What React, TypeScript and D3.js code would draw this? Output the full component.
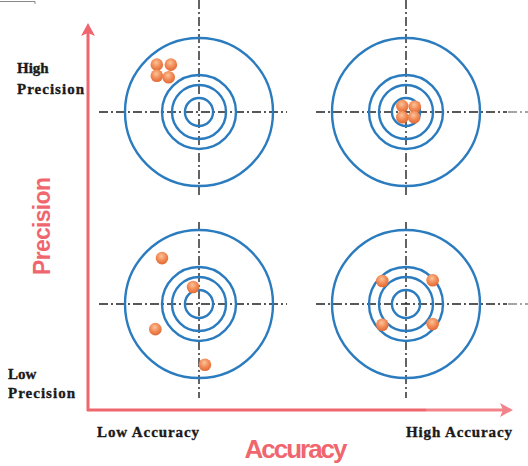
import React from "react";
import * as d3 from "d3";

const accuracyLevels = ["Low Accuracy", "High Accuracy"];
const precisionLevels = ["High Precision", "Low Precision"];
const ringRadii = [1, 0.5, 0.365, 0.19];

type Shot = { acc: string; prec: string; dx: number; dy: number };
const shotsLowAccHighPrec: [number, number][] = [[-0.57, 0.64], [-0.38, 0.64], [-0.57, 0.49], [-0.41, 0.47]];
const shotsHighAccHighPrec: [number, number][] = [[-0.05, 0.08], [0.12, 0.07], [-0.05, -0.07], [0.11, -0.07]];
const shotsLowAccLowPrec: [number, number][] = [[-0.5, 0.62], [-0.08, 0.23], [-0.59, -0.34], [0.08, -0.82]];
const shotsHighAccLowPrec: [number, number][] = [[-0.32, 0.31], [0.36, 0.32], [-0.32, -0.28], [0.36, -0.27]];

const shots: Shot[] = [
  ...shotsLowAccHighPrec.map(([dx, dy]) => ({ acc: "Low Accuracy", prec: "High Precision", dx, dy })),
  ...shotsHighAccHighPrec.map(([dx, dy]) => ({ acc: "High Accuracy", prec: "High Precision", dx, dy })),
  ...shotsLowAccLowPrec.map(([dx, dy]) => ({ acc: "Low Accuracy", prec: "Low Precision", dx, dy })),
  ...shotsHighAccLowPrec.map(([dx, dy]) => ({ acc: "High Accuracy", prec: "Low Precision", dx, dy })),
];

const W = 528, H = 466;
const RED = "#f0666e";
const BLUE = "#2b7bbf";

export default function App() {
  const x = d3.scalePoint<string>().domain(accuracyLevels).range([199, 406]);
  const y = d3.scalePoint<string>().domain(precisionLevels).range([112, 304]);
  const ox = d3.scaleLinear().domain([-1, 1]).range([-74, 74]);
  const oy = d3.scaleLinear().domain([-1, 1]).range([74, -74]);
  const dashDot = "9,3,2,3";
  const serif = "'Liberation Serif', 'Times New Roman', serif";
  const sans = "'Liberation Sans', Arial, sans-serif";

  return (
    <svg width={W} height={H} style={{ position: "absolute", left: 0, top: 0 }}>
      <defs>
        <radialGradient id="ball" cx="45%" cy="35%" r="65%">
          <stop offset="0%" stopColor="#fbc39a" />
          <stop offset="55%" stopColor="#f28a55" />
          <stop offset="100%" stopColor="#e06a35" />
        </radialGradient>
      </defs>
      <path d="M0,1.5H35V4" fill="none" stroke="#888" strokeWidth={1} />

      {/* crosshairs */}
      {precisionLevels.map((p) => {
        const cy = y(p)!;
        const top = p === "High Precision";
        return (
          <g key={p}>
            <line x1={x("Low Accuracy")! - 100} x2={x("Low Accuracy")! + 88} y1={cy} y2={cy}
              stroke="#222" strokeWidth={1.4} strokeDasharray={dashDot} />
            <line x1={x("High Accuracy")! - 90} x2={x("High Accuracy")! + 101} y1={cy} y2={cy}
              stroke="#222" strokeWidth={1.4} strokeDasharray={dashDot} />
            <line x1={x("High Accuracy")! + 102} x2={W} y1={cy} y2={cy}
              stroke="#888" strokeWidth={1.6} strokeDasharray={dashDot} />
            {accuracyLevels.map((a) => (
              <line key={a} x1={x(a)!} x2={x(a)!} y1={top ? cy - 112 : cy - 82} y2={top ? cy + 83 : cy + 94}
                stroke="#222" strokeWidth={1.4} strokeDasharray={dashDot} />
            ))}
          </g>
        );
      })}

      {/* targets */}
      {precisionLevels.map((p) =>
        accuracyLevels.map((a) => (
          <g key={p + a} transform={`translate(${x(a)},${y(p)})`}>
            {ringRadii.map((r) => (
              <circle key={r} r={ox(r)} fill="none" stroke={BLUE} strokeWidth={2.4} />
            ))}
          </g>
        ))
      )}

      {/* shots */}
      {shots.map((s, i) => (
        <circle key={i} cx={x(s.acc)! + ox(s.dx)} cy={y(s.prec)! + oy(s.dy)} r={6.3} fill="url(#ball)" />
      ))}

      {/* axes */}
      <line x1={88} x2={88} y1={411} y2={32} stroke={RED} strokeWidth={3} />
      <path d="M88,23 L95,36 L88,33 L81,36 Z" fill={RED} />
      <line x1={87} x2={426} y1={410} y2={410} stroke={RED} strokeWidth={3} />
      <line x1={426} x2={503} y1={410} y2={410} stroke="#f2838a" strokeWidth={3} />
      <path d="M513,410 L500,403 L503,410 L500,417 Z" fill="#f2838a" />

      {/* labels */}
      <g fontFamily={serif} fontWeight="bold" fontSize={15} fill="#1a1a1a" stroke="#1a1a1a" strokeWidth={0.35}>
        <text x={17} y={73}>High</text>
        <text x={17} y={94} textLength={67}>Precision</text>
        <text x={8} y={379}>Low</text>
        <text x={8} y={398} textLength={67}>Precision</text>
        <text x={97} y={437} textLength={102}>Low Accuracy</text>
        <text x={406} y={437} textLength={106}>High Accuracy</text>
      </g>
      <text x={296} y={458} textAnchor="middle" fontFamily={sans} fontWeight="bold" fontSize={26}
        fill={RED} textLength={103}>Accuracy</text>
      <text transform="translate(50,226) rotate(-90)" textAnchor="middle" fontFamily={sans} fontWeight="bold"
        fontSize={23} fill={RED} textLength={98}>Precision</text>
    </svg>
  );
}
